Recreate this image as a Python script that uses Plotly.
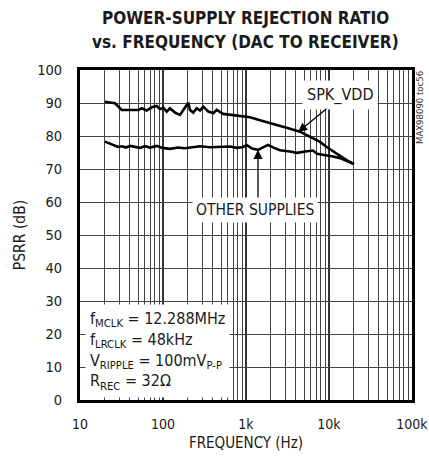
import plotly.graph_objects as go
import math

# ---- data ----
spk_freq = [20, 26.4, 31.8, 36.5, 42, 50.4, 55.4, 63.6, 73.1, 84, 92, 100.8, 110.8, 121.4, 139.5,
            160.3, 175.7, 193, 201.7, 211.5, 231.7, 254.7, 279.2, 305.9, 351.5, 403.6, 443.6, 532.8,
            703, 847, 1020, 1117, 1475, 1945, 2568, 3389, 4473, 5904, 7792, 9461, 11170, 13570,
            16480, 20000]
spk_db = [90.4, 89.9, 87.9, 87.9, 88.1, 87.9, 88.4, 87.7, 88.7, 89.1, 88.1, 88.6, 87.4, 88.4, 87.1,
          86.4, 87.9, 89.4, 90.1, 87.9, 87.1, 88.4, 87.7, 88.9, 87.4, 86.9, 87.9, 86.7,
          86.4, 86.2, 86.0, 85.7, 84.8, 84.0, 83.2, 82.2, 81.3, 79.8, 78.2, 76.6, 75.4, 73.9,
          72.6, 71.5]

oth_freq = [20, 23, 25, 28.7, 32.1, 35.8, 40, 46, 52.8, 60.7, 69.7, 84.7, 97.3, 121.4, 151.6,
            184.1, 229.8, 279.2, 368.4, 486.1, 641.6, 779.1, 894.9, 1028, 1181, 1395, 1603, 1841,
            2175, 2568, 3389, 4117, 5431, 6415, 7169, 9461, 11170, 13570, 16480, 20000]
oth_db = [78.3, 77.6, 77.3, 76.7, 76.9, 76.5, 77.0, 76.6, 76.4, 76.9, 76.5, 77.0, 76.4, 76.1, 76.5,
          76.3, 76.7, 76.9, 76.6, 76.6, 76.8, 76.4, 76.6, 77.2, 76.2, 75.8, 76.6, 77.3,
          76.4, 75.7, 75.3, 74.9, 75.4, 75.6, 74.6, 74.2, 73.8, 73.3, 72.4, 71.5]

x_tickvals = [10, 100, 1000, 10000, 100000]
x_ticktext = ["10", "100", "1k", "10k", "100k"]
y_tickvals = list(range(0, 101, 10))

FONT = "DejaVu Sans Condensed, Liberation Sans Narrow, sans-serif"
TXT = "#1a1a1a"

W, H = 429, 460
ML, MT = 80, 70
PW, PH = 332, 330
MR, MB = W - ML - PW, H - MT - PH


def px_x(px):  # window pixel -> paper x
    return (px - ML) / PW


def px_y(py):  # window pixel -> paper y
    return 1 - (py - MT) / PH


fig = go.Figure()
fig.add_trace(go.Scatter(x=spk_freq, y=spk_db, mode="lines",
                         line=dict(color="black", width=2.6), hoverinfo="skip"))
fig.add_trace(go.Scatter(x=oth_freq, y=oth_db, mode="lines",
                         line=dict(color="black", width=2.6), hoverinfo="skip"))

L = math.log10
anns = [
    # title
    dict(x=px_x(245), y=px_y(18), xref="paper", yref="paper", showarrow=False,
         xanchor="center", yanchor="middle",
         text="<b>POWER-SUPPLY REJECTION RATIO</b>", font=dict(size=17, color=TXT, family=FONT)),
    dict(x=px_x(245), y=px_y(42), xref="paper", yref="paper", showarrow=False,
         xanchor="center", yanchor="middle",
         text="<b>vs. FREQUENCY (DAC TO RECEIVER)</b>", font=dict(size=17, color=TXT, family=FONT)),
    # SPK_VDD label and arrow
    dict(x=L(13580), y=92.5, xref="x", yref="y", text="SPK_VDD", showarrow=False,
         xanchor="center", yanchor="middle",
         bgcolor="white", font=dict(size=16, color=TXT, family=FONT), borderpad=4),
    dict(x=L(4240), y=81.2, ax=L(9730), ay=88.6, xref="x", yref="y", axref="x", ayref="y",
         text="", showarrow=True, arrowhead=2, arrowsize=1.4, arrowwidth=1.3, arrowcolor="black"),
    # OTHER SUPPLIES label and arrow
    dict(x=L(1283), y=57.6, xref="x", yref="y", text="OTHER SUPPLIES", showarrow=False,
         xanchor="center", yanchor="middle",
         bgcolor="white", font=dict(size=15.5, color=TXT, family=FONT), borderpad=3),
    dict(x=L(1395), y=75.8, ax=L(1395), ay=61.0, xref="x", yref="y", axref="x", ayref="y",
         text="", showarrow=True, arrowhead=2, arrowsize=1.4, arrowwidth=1.3, arrowcolor="black"),
    # conditions box
    dict(x=L(11.4), y=0.5, xref="x", yref="y", xanchor="left", yanchor="bottom", align="left",
         text="f<sub>MCLK</sub> = 12.288MHz<br>f<sub>LRCLK</sub> = 48kHz<br>"
              "V<sub>RIPPLE</sub> = 100mV<sub>P-P</sub><br>R<sub>REC</sub> = 32Ω",
         showarrow=False, bgcolor="white", font=dict(size=16, color=TXT, family=FONT),
         borderpad=4),
    # side code
    dict(x=px_x(420), y=px_y(108), xref="paper", yref="paper", text="MAX98090 toc56",
         xanchor="center", yanchor="middle",
         showarrow=False, textangle=-90, font=dict(size=9.5, color="#333", family=FONT)),
]

fig.update_layout(
    width=W, height=H,
    margin=dict(l=ML, r=MR, t=MT, b=MB, autoexpand=False),
    paper_bgcolor="white", plot_bgcolor="white",
    showlegend=False,
    annotations=anns,
    font=dict(family=FONT, color=TXT),
)
fig.update_xaxes(
    type="log", range=[0.99999, 5.00001], tickvals=x_tickvals, ticktext=x_ticktext,
    showgrid=True, gridcolor="#333", gridwidth=1.3, automargin=False,
    minor=dict(dtick="D1", showgrid=True, gridcolor="#444", gridwidth=1, ticks=""),
    showline=True, linecolor="black", linewidth=3, mirror=True,
    ticks="", tickfont=dict(size=14, family=FONT, color=TXT), ticklabelstandoff=9,
    ticklabeloverflow="allow",
    title=dict(text="FREQUENCY (Hz)", font=dict(size=15, family=FONT, color=TXT), standoff=7),
    zeroline=False, fixedrange=True,
)
fig.update_yaxes(
    range=[0, 100], tickvals=y_tickvals, automargin=False,
    showgrid=True, gridcolor="#444", gridwidth=1,
    showline=True, linecolor="black", linewidth=3, mirror=True,
    ticks="", tickfont=dict(size=14.5, family=FONT, color=TXT), ticklabelstandoff=12,
    title=dict(text="PSRR (dB)", font=dict(size=15.5, family=FONT, color=TXT), standoff=8),
    zeroline=False, fixedrange=True,
)

# remove the page's default body margin so the 429x460 figure fills the window exactly
fig.write_html("out.html", config={"displayModeBar": False, "staticPlot": True},
               post_script="document.body.style.margin='0px';")
